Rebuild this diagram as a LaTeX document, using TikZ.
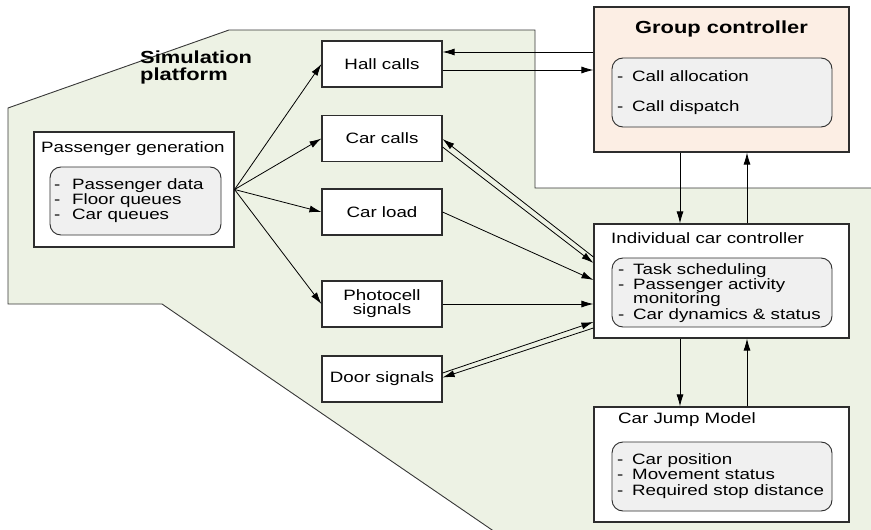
\documentclass[tikz,border=0pt]{standalone}
\usepackage{fontspec}
\setmainfont[FakeStretch=1.25]{Liberation Sans}
\usetikzlibrary{arrows.meta}
\definecolor{platfill}{RGB}{237,242,228}
\definecolor{platedge}{RGB}{55,55,55}
\definecolor{peach}{RGB}{252,238,228}
\definecolor{innerfill}{RGB}{240,240,240}
\definecolor{boxedge}{RGB}{45,45,45}
\newcommand{\regf}{\fontsize{15}{15}\selectfont}
\newcommand{\boldfnt}{\fontsize{17.5}{17.5}\selectfont\bfseries}
\newcommand{\pgi}[1]{\makebox[18pt][l]{-}#1}
\newcommand{\cti}[1]{\makebox[15pt][l]{-}#1}
\tikzset{
  box/.style={draw=boxedge, line width=1.1pt, fill=white, minimum width=#1, inner sep=0pt},
  smallbox/.style={box=120pt, minimum height=46pt, align=center, font=\regf},
  inner/.style={draw=boxedge, line width=0.9pt, fill=innerfill, rounded corners=11pt, inner sep=0pt, minimum width=#1},
  txt/.style={anchor=base west, inner sep=0pt, font=\regf},
  arr/.style={draw=black, line width=0.8pt, -{Latex[length=12pt,width=7pt]}}
}
\begin{document}
\begin{tikzpicture}[x=1pt,y=-1pt]
\useasboundingbox (0,0) rectangle (871,530);
% platform
\begin{scope}
\clip (0,0) rectangle (871,530);
\filldraw[fill=platfill, draw=platedge, line width=0.9pt]
  (8,108) -- (229,30) -- (535,30) -- (535,188) -- (890,188) -- (890,545)
  -- (514,545) -- (162,304) -- (8,304) -- cycle;
\end{scope}
\node[anchor=base west, inner sep=0pt, align=left, font=\boldfnt] (simtitle) at (140,80) {Simulation\\[-0.5pt]platform};

% passenger generation
\node[box=200pt, minimum height=115pt] (pg) at (134,189.5) {};
\node[inner=171pt, minimum height=68pt] (pgin) at (135.5,201) {};
\node[txt] (pgt) at (41,152) {Passenger generation};
\node[txt] (pg1) at (54,189) {\pgi{Passenger data}};
\node[txt] (pg2) at (54,204) {\pgi{Floor queues}};
\node[txt] (pg3) at (54,219) {\pgi{Car queues}};

% small boxes
\node[smallbox] (hall) at (382,64) {Hall calls};
\node[smallbox] (carcalls) at (382,138.5) {Car calls};
\node[smallbox] (carload) at (382,212) {Car load};
\node[smallbox] (photo) at (382,304) {Photocell\\[-1pt]signals};
\node[smallbox] (door) at (382,379) {Door signals};

% group controller
\node[box=255pt, minimum height=145pt, fill=peach] (group) at (721.5,79.5) {};
\node[inner=220pt, minimum height=69pt] (groupin) at (722,92.5) {};
\node[anchor=base, inner sep=0pt, font=\boldfnt] (groupt) at (721.5,34) {Group controller};
\node[txt] (g1) at (617,81) {\cti{Call allocation}};
\node[txt] (g2) at (617,111) {\cti{Call dispatch}};

% individual car controller
\node[box=255pt, minimum height=114pt] (icc) at (721.5,281) {};
\node[inner=220pt, minimum height=69pt] (iccin) at (722,292.5) {};
\node[txt] (icct) at (611,243) {Individual car controller};
\node[txt] (i1) at (618,274) {\cti{Task scheduling}};
\node[txt] (i2) at (618,289) {\cti{Passenger activity}};
\node[txt] (i3) at (618,303.5) {\makebox[15pt][l]{}monitoring};
\node[txt] (i4) at (618,319) {\cti{Car dynamics \& status}};

% car jump model
\node[box=255pt, minimum height=115pt] (cjm) at (721.5,464.5) {};
\node[inner=220pt, minimum height=69pt] (cjmin) at (722,476.5) {};
\node[txt] (cjmt) at (618,423) {Car Jump Model};
\node[txt] (c1) at (617,464) {\cti{Car position}};
\node[txt] (c2) at (617,479) {\cti{Movement status}};
\node[txt] (c3) at (617,495) {\cti{Required stop distance}};

% fan from passenger generation
\draw[arr] (pg.east) -- (hall.west);
\draw[arr] (pg.east) -- (carcalls.west);
\draw[arr] (pg.east) -- (carload.west);
\draw[arr] (pg.east) -- (photo.west);

% hall calls <-> group
\draw[arr] (group.west |- 0,52) -- (hall.east |- 0,52);
\draw[arr] (hall.east |- 0,70) -- (group.west |- 0,70);

% group <-> icc
\draw[arr] (group.south -| 680,0) -- (icc.north -| 680,0);
\draw[arr] (icc.north -| 747,0) -- (group.south -| 747,0);
% icc <-> cjm
\draw[arr] (icc.south -| 680,0) -- (cjm.north -| 680,0);
\draw[arr] (cjm.north -| 747,0) -- (icc.south -| 747,0);

% car calls <-> icc
\draw[arr] (icc.west |- 0,257) -- (carcalls.east |- 0,139);
\draw[arr] (carcalls.east |- 0,147) -- (icc.west |- 0,263);
% car load -> icc
\draw[arr] (carload.east) -- (icc.west |- 0,280);
% photocell -> icc
\draw[arr] (photo.east) -- (icc.west |- 0,304);
% door <-> icc
\draw[arr] (door.east |- 0,373) -- (icc.west |- 0,322);
\draw[arr] (icc.west |- 0,328) -- (door.east |- 0,377.5);
\end{tikzpicture}
\end{document}
